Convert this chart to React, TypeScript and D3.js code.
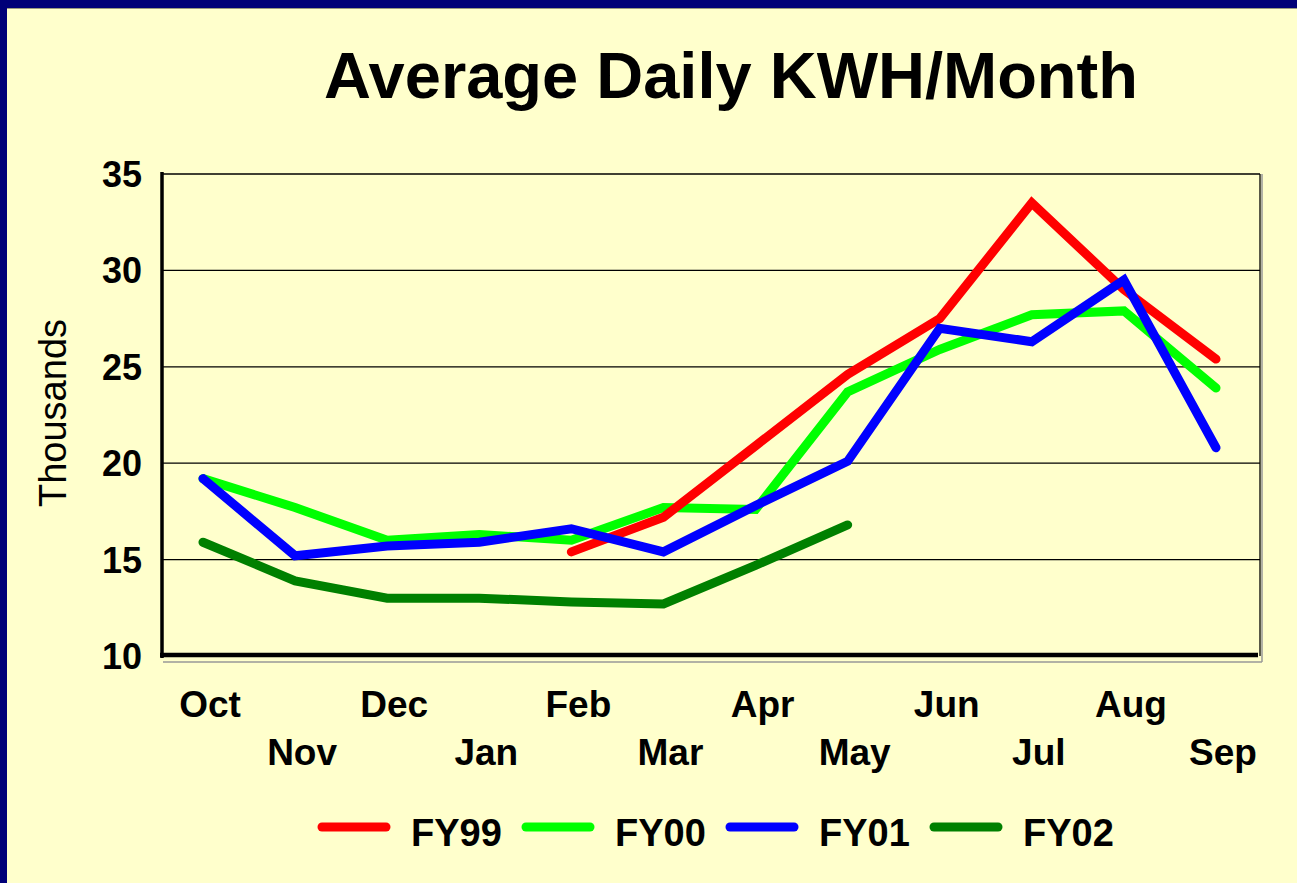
import React from 'react';
import * as d3 from 'd3';

// months of the fiscal year
const months = ['Oct', 'Nov', 'Dec', 'Jan', 'Feb', 'Mar', 'Apr', 'May', 'Jun', 'Jul', 'Aug', 'Sep'];

// average daily kWh, thousands (null = no data)
const fy99 = [null, null, null, null, 15.4, 17.2, 20.9, 24.6, 27.5, 33.5, 29.0, 25.4];
const fy00 = [19.2, 17.7, 16.0, 16.3, 16.0, 17.7, 17.6, 23.7, 25.9, 27.7, 27.9, 23.9];
const fy01 = [19.2, 15.2, 15.7, 15.9, 16.6, 15.4, 17.8, 20.1, 27.0, 26.3, 29.5, 20.8];
const fy02 = [15.9, 13.9, 13.0, 13.0, 12.8, 12.7, 14.7, 16.8, null, null, null, null];

const yTicks = [10, 15, 20, 25, 30, 35];

const seriesNames = ['FY99', 'FY00', 'FY01', 'FY02'];
const seriesColors = ['#ff0000', '#00ff00', '#0000ff', '#008000'];
const seriesValues = [fy99, fy00, fy01, fy02];
// drawing order (later on top)
const drawOrder = [1, 0, 2, 3];

const WIDTH = 1297;
const HEIGHT = 883;
const FONT = 'Arial, "Liberation Sans", sans-serif';

export default function App() {
  const plotLeft = 162;
  const plotRight = 1260;
  const plotTop = 174;
  const plotBottom = 656;

  const x = d3.scalePoint<string>().domain(months).range([203, 1216]);
  const y = d3.scaleLinear().domain([10, 35]).range([plotBottom, plotTop]);

  const line = d3
    .line<number | null>()
    .defined((d) => d !== null)
    .x((d, i) => x(months[i]) as number)
    .y((d) => y(d as number));

  return (
    <div style={{ position: 'fixed', left: 0, top: 0 }}>
      <svg width={WIDTH} height={HEIGHT} style={{ display: 'block' }} fontFamily={FONT}>
        <rect x={0} y={0} width={WIDTH} height={HEIGHT} fill="#ffffcc" />
        {/* navy frame */}
        <rect x={0} y={0} width={WIDTH} height={8} fill="#000078" />
        <rect x={0} y={0} width={7} height={HEIGHT} fill="#000078" />
        <line x1={7} x2={WIDTH} y1={8.5} y2={8.5} stroke="#9a9a80" strokeWidth={1} />

        <text x={731} y={98} textAnchor="middle" fontSize={65} fontWeight="bold" fill="#000">
          Average Daily KWH/Month
        </text>

        {/* shadow of plot area */}
        <line x1={163} x2={1262} y1={662} y2={662} stroke="#999" strokeWidth={1.5} />
        <line x1={1262} x2={1262} y1={174} y2={662} stroke="#999" strokeWidth={1.5} />

        {/* gridlines */}
        {yTicks.slice(1).map((t) => (
          <line key={t} x1={plotLeft} x2={plotRight} y1={y(t)} y2={y(t)} stroke="#000" strokeWidth={1.3} />
        ))}
        <line x1={plotRight} x2={plotRight} y1={plotTop} y2={plotBottom} stroke="#000" strokeWidth={1.3} />

        {/* axes */}
        <line x1={plotLeft} x2={plotLeft} y1={plotTop - 2} y2={plotBottom + 2} stroke="#000" strokeWidth={3.5} />
        <line x1={plotLeft - 2} x2={plotRight - 2} y1={plotBottom - 1} y2={plotBottom - 1} stroke="#000" strokeWidth={4.5} />

        {yTicks.map((t) => (
          <text key={t} x={142} y={y(t)} dy="0.36em" textAnchor="end" fontSize={36} fontWeight="bold" fill="#000">
            {t}
          </text>
        ))}

        <text
          transform={`translate(66, 413) rotate(-90)`}
          textAnchor="middle"
          fontSize={38}
          fill="#000"
        >
          Thousands
        </text>

        {months.map((m, i) => (
          <text
            key={m}
            x={(x(m) as number) + 7}
            y={i % 2 === 0 ? 717 : 765}
            textAnchor="middle"
            fontSize={37}
            fontWeight="bold"
            fill="#000"
          >
            {m}
          </text>
        ))}

        {drawOrder.map((si) => (
          <path
            key={seriesNames[si]}
            d={line(seriesValues[si]) || ''}
            fill="none"
            stroke={seriesColors[si]}
            strokeWidth={9}
            strokeLinecap="round"
            strokeLinejoin="miter"
          />
        ))}

        {/* legend */}
        {seriesNames.map((name, i) => {
          const lx = 318 + i * 204;
          return (
            <g key={name}>
              <line x1={lx + 4} x2={lx + 68} y1={827} y2={827} stroke={seriesColors[i]} strokeWidth={9} strokeLinecap="round" />
              <text x={lx + 93} y={846} fontSize={38} fontWeight="bold" fill="#000">
                {name}
              </text>
            </g>
          );
        })}
      </svg>
    </div>
  );
}
